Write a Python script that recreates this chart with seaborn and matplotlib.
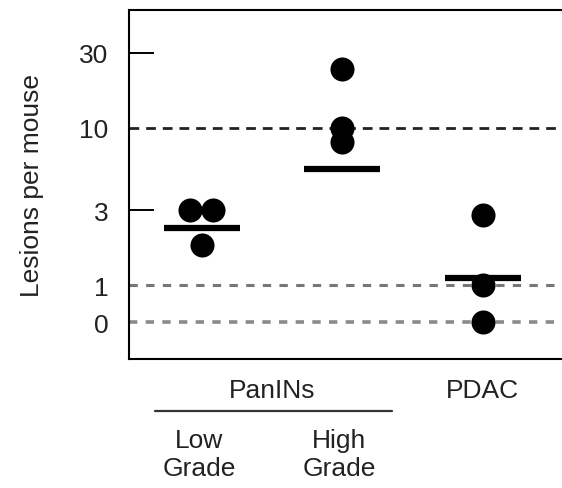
import numpy as np
import pandas as pd
import matplotlib
matplotlib.use("Agg")
import matplotlib.pyplot as plt
import seaborn as sns
from matplotlib.ticker import FixedLocator, NullFormatter

# lesions per mouse
groups = ["Low Grade", "High Grade", "PDAC"]
low_grade = [3, 3, 1.8]
high_grade = [23.6, 10, 8.1]
pdac = [2.8, 1, 0]
group_means = [2.3, 5.5, 1.12]

y_ticks = [0, 1, 3, 10, 30]
y_ticklabels = ["0", "1", "3", "10", "30"]

sns.set_style("white")
plt.rcParams["font.family"] = ["Liberation Sans", "DejaVu Sans"]
plt.rcParams["lines.scale_dashes"] = False
fs = 19

rows = []
for i, vals in enumerate([low_grade, high_grade, pdac]):
    for v in vals:
        rows.append({"group": groups[i], "idx": i, "lesions": v})
df = pd.DataFrame(rows)
# spread tied values sideways a little so both dots show
df["xpos"] = df["idx"].astype(float)
for (g, v), sub in df.groupby(["group", "lesions"]):
    if len(sub) > 1:
        df.loc[sub.index, "xpos"] += np.linspace(-0.08, 0.08, len(sub))

fig = plt.figure(figsize=(5.62, 4.89), dpi=100)
ax = fig.add_axes([129 / 562, 129 / 489, 466 / 562, 349 / 489])
ax.set_yscale("symlog", linthresh=1, linscale=0.211)

# reference lines
ax.axhline(10, color="#222222", lw=2.0, dashes=(7, 5), zorder=1)
ax.axhline(1, color="#777777", lw=2.2, dashes=(6, 6), zorder=1)
ax.axhline(0, color="#8a8a8a", lw=2.6, dashes=(6, 6), zorder=1)

sns.scatterplot(data=df, x="xpos", y="lesions", color="black", s=300,
                linewidth=0, legend=False, ax=ax, zorder=3)
ax.hlines(group_means, np.arange(len(groups)) - 0.27, np.arange(len(groups)) + 0.27,
          color="black", lw=4.5, zorder=4)

ax.set_xlim(-0.517, 2.8)
ax.set_ylim(-0.99, 56)
ax.set_xticks([])
ax.set_xlabel("")
ax.yaxis.set_major_locator(FixedLocator(y_ticks))
ax.set_yticklabels(y_ticklabels)
ax.yaxis.remove_overlapping_locs = False
ax.yaxis.set_minor_locator(FixedLocator([3, 30]))
ax.yaxis.set_minor_formatter(NullFormatter())
ax.tick_params(axis="y", which="major", length=0, pad=15, labelsize=fs, colors="#222222")
ax.tick_params(axis="y", which="minor", direction="in", length=18, width=1.4, color="black", left=True)
ax.set_ylabel("Lesions per mouse", fontsize=fs, labelpad=25, color="#222222")

for s in ["left", "bottom", "top", "right"]:
    ax.spines[s].set_linewidth(1.5)
    ax.spines[s].set_color("black")

xt = ax.get_xaxis_transform()
ax.text(0.5, -0.089, "PanINs", transform=xt, ha="center", va="center", fontsize=fs, color="#222222")
ax.text(2, -0.089, "PDAC", transform=xt, ha="center", va="center", fontsize=fs, color="#222222")
ax.plot([-0.332, 1.354], [-0.148, -0.148], transform=xt, color="#333333", lw=1.6, clip_on=False)
for i, g in enumerate(groups[:2]):
    ax.text(i - 0.02, -0.272, g.replace(" ", "\n"), transform=xt, ha="center", va="center",
            fontsize=fs, linespacing=1.25, color="#222222")

fig.savefig("out.png", dpi=100)
